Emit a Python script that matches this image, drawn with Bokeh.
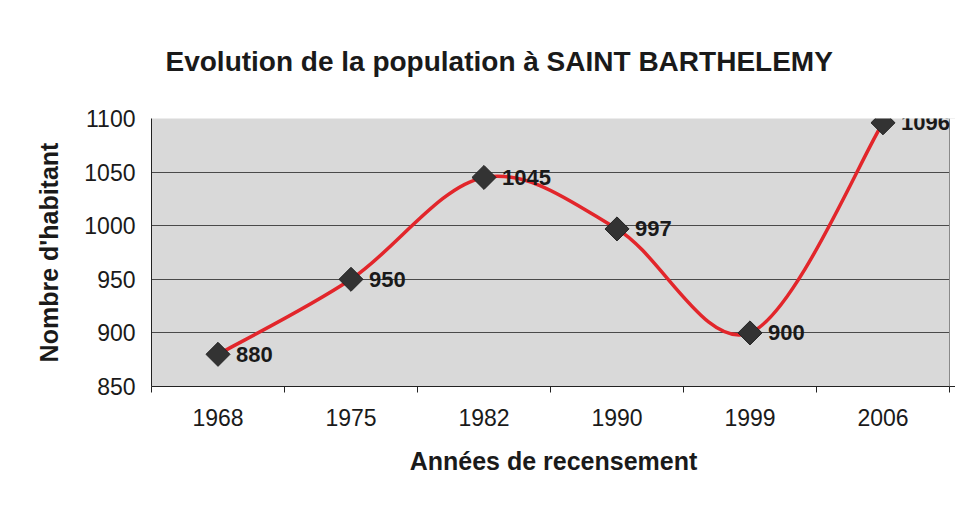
from bokeh.plotting import figure
from bokeh.models import FixedTicker, ColumnDataSource, LabelSet, Title, Span, BoxAnnotation
from bokeh.embed import file_html
from bokeh.resources import INLINE
from bokeh.core.properties import value

years = ["1968", "1975", "1982", "1990", "1999", "2006"]
population = [880, 950, 1045, 997, 900, 1096]
y_ticks = [850, 900, 950, 1000, 1050, 1100]
title_text = "Evolution de la population à SAINT BARTHELEMY"

FONT = "Liberation Sans"
idx = list(range(len(years)))

W, H = 955, 490
BL, BT, BB, BR = 151, 118, 104, 0
RIGHT_PAD = 6  # px of frame kept to the right of the plot-area border
cat_end = len(years) - 0.5
pitch = (W - BL - BR - RIGHT_PAD) / len(years)
x_end = cat_end + RIGHT_PAD / pitch

p = figure(width=W, height=H, output_backend="svg", toolbar_location=None,
           x_range=(-0.5, x_end), y_range=(850, 1100),
           min_border_left=BL, min_border_right=BR, min_border_top=BT,
           min_border_bottom=BB, title=None)

p.add_layout(Title(text=title_text, align="left", offset=14, text_font=FONT,
                   text_font_size="28px", text_font_style="bold",
                   text_color="#1a1a1a", standoff=83), "above")

p.background_fill_color = "#d9d9d9"
p.border_fill_color = "white"
p.outline_line_color = None

# axes
p.xaxis.ticker = FixedTicker(ticks=idx, minor_ticks=[i - 0.5 for i in range(len(years) + 1)])
p.xaxis.major_label_overrides = {i: y for i, y in enumerate(years)}
p.xaxis.major_tick_out = 0
p.xaxis.major_tick_in = 0
p.xaxis.minor_tick_out = 6
p.xaxis.minor_tick_in = 0
p.xaxis.minor_tick_line_color = "#222222"
p.xaxis.major_label_standoff = 16
p.xaxis.axis_label = "Années de recensement"
p.xaxis.axis_label_standoff = 18

p.yaxis.ticker = FixedTicker(ticks=y_ticks)
p.yaxis.minor_tick_line_color = None
p.yaxis.major_tick_out = 6
p.yaxis.major_tick_in = 0
p.yaxis.major_label_standoff = 10
p.yaxis.axis_label = "Nombre d'habitant"
p.yaxis.axis_label_standoff = 18

for ax in (p.xaxis, p.yaxis):
    ax.axis_line_color = "#222222"
    ax.axis_line_width = 1
    ax.major_tick_line_color = "#222222" if ax is p.yaxis else None
    ax.major_label_text_font = FONT
    ax.major_label_text_font_size = "23px"
    ax.major_label_text_color = "#1a1a1a"
    ax.axis_label_text_font = FONT
    ax.axis_label_text_font_size = "25px"
    ax.axis_label_text_font_style = "bold"
    ax.axis_label_text_color = "#1a1a1a"

p.xgrid.grid_line_color = None
p.ygrid.grid_line_color = "#4a4a4a"
p.ygrid.grid_line_width = 1

# white strip right of the plot-area border, and the border itself
p.add_layout(BoxAnnotation(left=cat_end, fill_color="white", fill_alpha=1,
                           line_color=None, level="underlay"))
p.add_layout(Span(location=cat_end, dimension="height", line_color="#8a8a8a",
                  line_width=1))

# smoothed line (Catmull-Rom style bezier like Excel's smoothed line)
n = len(population)
x0, y0, x1, y1, cx0, cy0, cx1, cy1 = [], [], [], [], [], [], [], []
for i in range(n - 1):
    pm = i - 1 if i > 0 else i
    pp = i + 2 if i + 2 < n else i + 1
    x0.append(idx[i]); y0.append(population[i])
    x1.append(idx[i + 1]); y1.append(population[i + 1])
    cx0.append(idx[i] + (idx[i + 1] - idx[pm]) / 6)
    cy0.append(population[i] + (population[i + 1] - population[pm]) / 6)
    cx1.append(idx[i + 1] - (idx[pp] - idx[i]) / 6)
    cy1.append(population[i + 1] - (population[pp] - population[i]) / 6)
p.bezier(x0=x0, y0=y0, x1=x1, y1=y1, cx0=cx0, cy0=cy0, cx1=cx1, cy1=cy1,
         line_color="#e2262b", line_width=3.5)

src = ColumnDataSource(dict(x=idx, y=population, label=[str(v) for v in population]))
p.scatter("x", "y", source=src, marker="square", angle=0.785398, size=17,
          fill_color="#333333", line_color="#222222")
p.add_layout(LabelSet(x="x", y="y", text="label", source=src, x_offset=18,
                      text_baseline="middle", text_font=value(FONT),
                      text_font_size=value("22px"), text_font_style=value("bold"),
                      text_color="#1a1a1a"))

open("out.html", "w").write(file_html(p, INLINE))
